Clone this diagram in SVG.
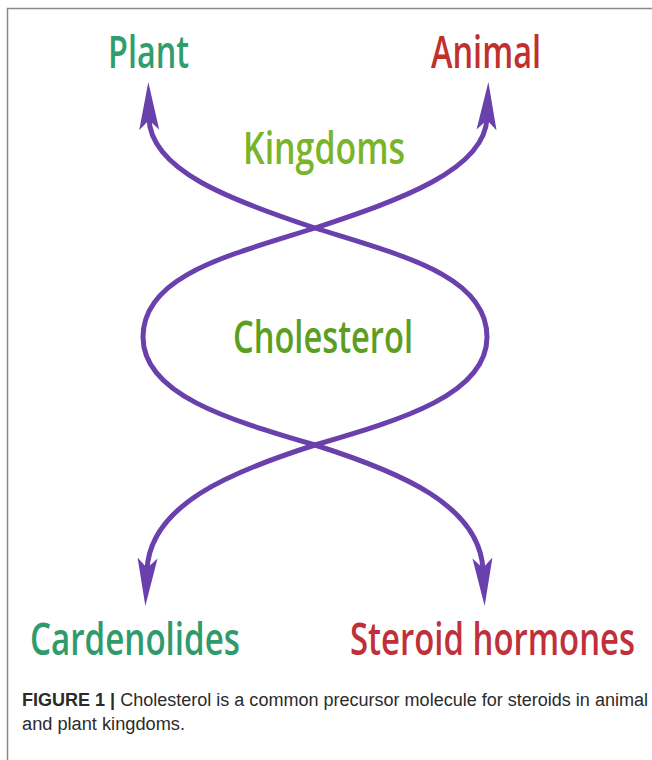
<svg xmlns="http://www.w3.org/2000/svg" width="652" height="760" viewBox="0 0 652 760">
<style>
.lbl{font-family:"Open Sans","DejaVu Sans",sans-serif;font-size:45px;font-weight:600;}
.cap{font-family:"Liberation Sans",Arial,sans-serif;font-size:18px;fill:#2b2b2b;}
.wire{fill:none;stroke:#6a40ad;stroke-width:5;stroke-linecap:round;}
</style>
<defs>
<marker id="ah" markerUnits="userSpaceOnUse" viewBox="0 -12 50 24" refX="12" refY="0" markerWidth="50" markerHeight="24" orient="auto-start-reverse">
<path d="M48,0 L0,-10 L10,0 L0,10 Z" fill="#6a40ad"/>
</marker>
</defs>
<rect width="652" height="760" fill="#fff"/>
<path d="M7.5,760 V8.5 H652" fill="none" stroke="#8a8a8a" stroke-width="1.5"/>
<g id="connectors">
<path class="wire" d="M149,118 C150,170 230,200 315,228 C400,255 487,275 487,337 C487,395 400,420 315,445 C230,472 150,505 147,570" marker-start="url(#ah)" marker-end="url(#ah)"/>
<path class="wire" d="M487,118 C485,170 400,200 315,228 C230,255 143,275 143,337 C143,395 230,420 315,445 C400,472 480,505 483,570" marker-start="url(#ah)" marker-end="url(#ah)"/>
</g>
<g id="plant"><text class="lbl" transform="translate(108,68) scale(0.75,1)" fill="#2f9e6c" textLength="108" lengthAdjust="spacingAndGlyphs">Plant</text></g>
<g id="animal"><text class="lbl" transform="translate(431,68) scale(0.75,1)" fill="#c2302e" textLength="146.7" lengthAdjust="spacingAndGlyphs">Animal</text></g>
<g id="kingdoms"><text class="lbl" transform="translate(243,164) scale(0.75,1)" fill="#7ab42a" textLength="216" lengthAdjust="spacingAndGlyphs">Kingdoms</text></g>
<g id="cholesterol"><text class="lbl" transform="translate(233,353) scale(0.75,1)" fill="#5c9e22" textLength="240" lengthAdjust="spacingAndGlyphs">Cholesterol</text></g>
<g id="cardenolides"><text class="lbl" transform="translate(30,655) scale(0.75,1)" fill="#2f9a6c" textLength="280" lengthAdjust="spacingAndGlyphs">Cardenolides</text></g>
<g id="steroid"><text class="lbl" transform="translate(350,655) scale(0.75,1)" fill="#c0303a" textLength="380" lengthAdjust="spacingAndGlyphs">Steroid hormones</text></g>
<g id="caption">
<text class="cap" x="22" y="706" textLength="626" lengthAdjust="spacingAndGlyphs"><tspan font-weight="bold">FIGURE 1 |</tspan> Cholesterol is a common precursor molecule for steroids in animal</text>
<text class="cap" x="22" y="730" textLength="163" lengthAdjust="spacingAndGlyphs">and plant kingdoms.</text>
</g>
</svg>
